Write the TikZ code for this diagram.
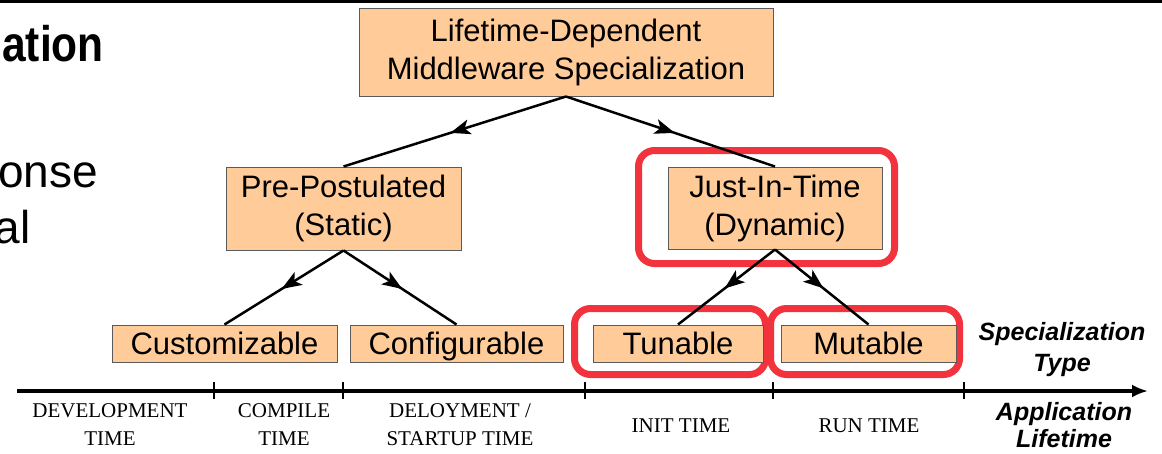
\documentclass[tikz,border=0pt]{standalone}
\usepackage{fontspec}
\setmainfont{Liberation Sans}
\newfontfamily\serifcaps{Liberation Serif}
\usetikzlibrary{arrows.meta,decorations.markings}
\definecolor{boxfill}{RGB}{255,204,153}
\definecolor{boxline}{RGB}{90,90,90}
\definecolor{hilite}{RGB}{242,50,60}
\begin{document}
\begin{tikzpicture}[x=1pt,y=-1pt,
  specbox/.style={draw=boxline,fill=boxfill,line width=1pt,inner sep=0pt,align=center,font=\fontsize{31}{38}\selectfont},
  onebox/.style={specbox,minimum height=37pt,text height=23pt,text depth=2pt},
  branch/.style={line width=2.5pt,postaction={decorate},decoration={markings,mark=at position 0.52 with {\arrow{Stealth[length=20pt,width=15pt,inset=5pt]}}}},
  hiframe/.style={draw=hilite,line width=7pt,rounded corners=16pt},
  phase/.style={font=\serifcaps\fontsize{21}{28}\selectfont,align=center,inner sep=0pt},
  axislabel/.style={font=\bfseries\itshape\fontsize{25}{31}\selectfont,align=center,inner sep=0pt},
  fragment/.style={inner sep=0pt,anchor=base east},
]
\useasboundingbox (0,0) rectangle (1162,453);
\fill[white] (0,0) rectangle (1162,453);

% top rule
\coordinate (ruleL) at (0,1.5);
\coordinate (ruleR) at (1162,1.5);
\draw[line width=3pt] (ruleL) -- (ruleR);

% fragments of slide text on the left
\node[fragment,font=\bfseries\fontsize{50}{50}\selectfont] (ttl) at (104,61) {\scalebox{0.85}[1]{ation}};
\node[fragment,font=\fontsize{46}{46}\selectfont] (fragA) at (98,187) {onse};
\node[fragment,font=\fontsize{46}{46}\selectfont] (fragB) at (31,243) {al};

% highlight frames
\draw[hiframe] (638.5,150.5) rectangle (894.5,263.5);
\draw[hiframe] (574.5,308.5) rectangle (765.5,374.5);
\draw[hiframe] (770.5,308.5) rectangle (959.5,374.5);

% boxes
\node[specbox,minimum width=414pt,minimum height=88pt] (top) at (566,52) {Lifetime-Dependent\\Middleware Specialization};
\node[specbox,minimum width=235pt,minimum height=83pt] (pre) at (343.5,208.5) {Pre-Postulated\\(Static)};
\node[specbox,minimum width=214pt,minimum height=82pt] (jit) at (775,208) {Just-In-Time\\(Dynamic)};
\node[onebox,minimum width=225pt] (cust) at (224.5,343.5) {Customizable};
\node[onebox,minimum width=213pt] (conf) at (456.5,343.5) {Configurable};
\node[onebox,minimum width=170pt] (tun) at (678,343.5) {Tunable};
\node[onebox,minimum width=175pt] (mut) at (868.5,343.5) {Mutable};

% connectors
\draw[branch] (top.south) -- (pre.north);
\draw[branch] (top.south) -- (jit.north);
\draw[branch] (pre.south) -- (cust.north);
\draw[branch] (pre.south) -- (conf.north);
\draw[branch] (jit.south) -- (tun.north);
\draw[branch] (jit.south) -- (mut.north);

% timeline
\coordinate (tlStart) at (17,391);
\coordinate (tlEnd) at (1148,391);
\draw[line width=3.5pt,-{Latex[length=16pt,width=13pt]}] (tlStart) -- (tlEnd);
\foreach \t in {214,343,585,773,964} \draw[line width=1.5pt] (\t,382) -- (\t,399);

% phase labels
\node[phase] (dev) at (110,424.4) {DEVELOPMENT\\TIME};
\node[phase] (comp) at (284,424.4) {COMPILE\\TIME};
\node[phase] (depl) at (460,424.4) {DELOYMENT /\\STARTUP TIME};
\node[phase,anchor=base] (init) at (681,432) {INIT TIME};
\node[phase,anchor=base] (run) at (869,432) {RUN TIME};

% axis labels
\node[axislabel] (spec) at (1062,350) {Specialization\\Type};
\node[axislabel,font=\bfseries\itshape\fontsize{25}{27}\selectfont] (life) at (1064,425.4) {Application\\Lifetime};
\end{tikzpicture}
\end{document}
